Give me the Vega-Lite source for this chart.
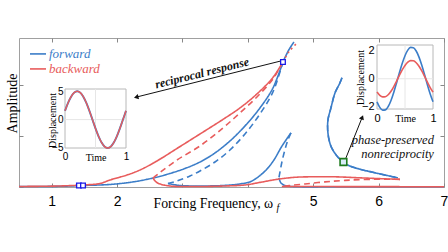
{
  "$schema": "https://vega.github.io/schema/vega-lite/v6.json",
  "width": 425,
  "height": 149,
  "autosize": {"type": "none"},
  "padding": {"left": 19, "top": 38, "right": 4, "bottom": 65},
  "background": "white",
  "config": {
    "view": {"stroke": "#a0a0a0", "strokeWidth": 1},
    "axis": {"grid": false, "domain": false, "labelFlush": false, "labelOverlap": false, "tickColor": "#888888", "labelColor": "black", "titleColor": "black"}
  },
  "datasets": {
    "curves": [
      {"s":"b1","dir":"forward","stab":"stable","i":0,"x":0.5,"y":0.01},
      {"s":"b1","dir":"forward","stab":"stable","i":1,"x":1.127,"y":0.014},
      {"s":"b1","dir":"forward","stab":"stable","i":2,"x":1.479,"y":0.03},
      {"s":"b1","dir":"forward","stab":"stable","i":3,"x":1.891,"y":0.05},
      {"s":"b1","dir":"forward","stab":"stable","i":4,"x":2.243,"y":0.10},
      {"s":"b1","dir":"forward","stab":"stable","i":5,"x":2.549,"y":0.176},
      {"s":"b1","dir":"forward","stab":"stable","i":6,"x":2.809,"y":0.265},
      {"s":"b1","dir":"forward","stab":"stable","i":7,"x":3.038,"y":0.363},
      {"s":"b1","dir":"forward","stab":"stable","i":8,"x":3.268,"y":0.49},
      {"s":"b1","dir":"forward","stab":"stable","i":9,"x":3.497,"y":0.667},
      {"s":"b1","dir":"forward","stab":"stable","i":10,"x":3.726,"y":0.902},
      {"s":"b1","dir":"forward","stab":"stable","i":11,"x":3.956,"y":1.196},
      {"s":"b1","dir":"forward","stab":"stable","i":12,"x":4.185,"y":1.549},
      {"s":"b1","dir":"forward","stab":"stable","i":13,"x":4.384,"y":1.941},
      {"s":"b1","dir":"forward","stab":"stable","i":14,"x":4.537,"y":2.451},
      {"s":"bf","dir":"forward","stab":"faint","i":0,"x":4.537,"y":2.451},
      {"s":"bf","dir":"forward","stab":"faint","i":1,"x":4.628,"y":2.69},
      {"s":"bf","dir":"forward","stab":"faint","i":2,"x":4.705,"y":2.84},
      {"s":"bd1","dir":"forward","stab":"unstable","i":0,"x":2.778,"y":0.069},
      {"s":"bd1","dir":"forward","stab":"unstable","i":1,"x":2.916,"y":0.118},
      {"s":"bd1","dir":"forward","stab":"unstable","i":2,"x":3.115,"y":0.216},
      {"s":"bd1","dir":"forward","stab":"unstable","i":3,"x":3.268,"y":0.314},
      {"s":"bd1","dir":"forward","stab":"unstable","i":4,"x":3.497,"y":0.49},
      {"s":"bd1","dir":"forward","stab":"unstable","i":5,"x":3.726,"y":0.725},
      {"s":"bd1","dir":"forward","stab":"unstable","i":6,"x":3.956,"y":1.039},
      {"s":"bd1","dir":"forward","stab":"unstable","i":7,"x":4.185,"y":1.431},
      {"s":"bd1","dir":"forward","stab":"unstable","i":8,"x":4.384,"y":1.863},
      {"s":"bd1","dir":"forward","stab":"unstable","i":9,"x":4.537,"y":2.451},
      {"s":"bl1","dir":"forward","stab":"stable","i":0,"x":2.778,"y":0.069},
      {"s":"bl1","dir":"forward","stab":"stable","i":1,"x":2.962,"y":0.03},
      {"s":"bl1","dir":"forward","stab":"stable","i":2,"x":3.268,"y":0.02},
      {"s":"bl1","dir":"forward","stab":"stable","i":3,"x":3.635,"y":0.03},
      {"s":"bl1","dir":"forward","stab":"stable","i":4,"x":3.879,"y":0.06},
      {"s":"bl1","dir":"forward","stab":"stable","i":5,"x":4.032,"y":0.10},
      {"s":"bl1","dir":"forward","stab":"stable","i":6,"x":4.139,"y":0.18},
      {"s":"bl1","dir":"forward","stab":"stable","i":7,"x":4.277,"y":0.33},
      {"s":"bl1","dir":"forward","stab":"stable","i":8,"x":4.399,"y":0.53},
      {"s":"bl1","dir":"forward","stab":"stable","i":9,"x":4.521,"y":0.80},
      {"s":"bl1","dir":"forward","stab":"stable","i":10,"x":4.659,"y":1.06},
      {"s":"bd2","dir":"forward","stab":"unstable","i":0,"x":4.659,"y":1.06},
      {"s":"bd2","dir":"forward","stab":"unstable","i":1,"x":4.613,"y":0.92},
      {"s":"bd2","dir":"forward","stab":"unstable","i":2,"x":4.567,"y":0.73},
      {"s":"bd2","dir":"forward","stab":"unstable","i":3,"x":4.521,"y":0.49},
      {"s":"bd2","dir":"forward","stab":"unstable","i":4,"x":4.491,"y":0.29},
      {"s":"bd2","dir":"forward","stab":"unstable","i":5,"x":4.475,"y":0.18},
      {"s":"bl2","dir":"forward","stab":"stable","i":0,"x":4.475,"y":0.18},
      {"s":"bl2","dir":"forward","stab":"stable","i":1,"x":4.506,"y":0.08},
      {"s":"bl2","dir":"forward","stab":"stable","i":2,"x":4.567,"y":0.03},
      {"s":"bl2","dir":"forward","stab":"stable","i":3,"x":4.674,"y":0.01},
      {"s":"bl2","dir":"forward","stab":"stable","i":4,"x":5.5,"y":0.006},
      {"s":"bl2","dir":"forward","stab":"stable","i":5,"x":7.0,"y":0.005},
      {"s":"brl","dir":"forward","stab":"faint","i":0,"x":5.439,"y":2.14},
      {"s":"brl","dir":"forward","stab":"faint","i":1,"x":5.408,"y":2.04},
      {"s":"brl","dir":"forward","stab":"faint","i":2,"x":5.332,"y":1.84},
      {"s":"brl","dir":"forward","stab":"faint","i":3,"x":5.271,"y":1.55},
      {"s":"brl","dir":"forward","stab":"faint","i":4,"x":5.225,"y":1.31},
      {"s":"brl","dir":"forward","stab":"faint","i":5,"x":5.225,"y":1.06},
      {"s":"brl","dir":"forward","stab":"faint","i":6,"x":5.271,"y":0.80},
      {"s":"brl","dir":"forward","stab":"faint","i":7,"x":5.362,"y":0.61},
      {"s":"brl","dir":"forward","stab":"faint","i":8,"x":5.454,"y":0.49},
      {"s":"brl","dir":"forward","stab":"faint","i":9,"x":5.561,"y":0.41},
      {"s":"brl","dir":"forward","stab":"faint","i":10,"x":5.714,"y":0.35},
      {"s":"brl","dir":"forward","stab":"faint","i":11,"x":5.974,"y":0.27},
      {"s":"brl","dir":"forward","stab":"faint","i":12,"x":6.295,"y":0.18},
      {"s":"br","dir":"forward","stab":"unstable","i":0,"x":5.439,"y":2.14},
      {"s":"br","dir":"forward","stab":"unstable","i":1,"x":5.408,"y":2.04},
      {"s":"br","dir":"forward","stab":"unstable","i":2,"x":5.332,"y":1.84},
      {"s":"br","dir":"forward","stab":"unstable","i":3,"x":5.271,"y":1.55},
      {"s":"br","dir":"forward","stab":"unstable","i":4,"x":5.225,"y":1.31},
      {"s":"br","dir":"forward","stab":"unstable","i":5,"x":5.225,"y":1.06},
      {"s":"br","dir":"forward","stab":"unstable","i":6,"x":5.271,"y":0.80},
      {"s":"br","dir":"forward","stab":"unstable","i":7,"x":5.362,"y":0.61},
      {"s":"br","dir":"forward","stab":"unstable","i":8,"x":5.454,"y":0.49},
      {"s":"br","dir":"forward","stab":"unstable","i":9,"x":5.561,"y":0.41},
      {"s":"br","dir":"forward","stab":"unstable","i":10,"x":5.714,"y":0.35},
      {"s":"br","dir":"forward","stab":"unstable","i":11,"x":5.974,"y":0.27},
      {"s":"br","dir":"forward","stab":"unstable","i":12,"x":6.295,"y":0.18},
      {"s":"r1","dir":"backward","stab":"stable","i":0,"x":0.5,"y":0.01},
      {"s":"r1","dir":"backward","stab":"stable","i":1,"x":1.127,"y":0.02},
      {"s":"r1","dir":"backward","stab":"stable","i":2,"x":1.479,"y":0.04},
      {"s":"r1","dir":"backward","stab":"stable","i":3,"x":1.739,"y":0.069},
      {"s":"r1","dir":"backward","stab":"stable","i":4,"x":1.891,"y":0.137},
      {"s":"r1","dir":"backward","stab":"stable","i":5,"x":2.151,"y":0.235},
      {"s":"r1","dir":"backward","stab":"stable","i":6,"x":2.35,"y":0.333},
      {"s":"r1","dir":"backward","stab":"stable","i":7,"x":2.61,"y":0.51},
      {"s":"r1","dir":"backward","stab":"stable","i":8,"x":2.916,"y":0.755},
      {"s":"r1","dir":"backward","stab":"stable","i":9,"x":3.268,"y":1.039},
      {"s":"r1","dir":"backward","stab":"stable","i":10,"x":3.619,"y":1.324},
      {"s":"r1","dir":"backward","stab":"stable","i":11,"x":3.879,"y":1.549},
      {"s":"r1","dir":"backward","stab":"stable","i":12,"x":4.139,"y":1.824},
      {"s":"r1","dir":"backward","stab":"stable","i":13,"x":4.384,"y":2.147},
      {"s":"r1","dir":"backward","stab":"stable","i":14,"x":4.537,"y":2.451},
      {"s":"rf","dir":"backward","stab":"faintdash","i":0,"x":4.537,"y":2.451},
      {"s":"rf","dir":"backward","stab":"faintdash","i":1,"x":4.628,"y":2.65},
      {"s":"rf","dir":"backward","stab":"faintdash","i":2,"x":4.735,"y":2.80},
      {"s":"rd1","dir":"backward","stab":"unstable","i":0,"x":2.549,"y":0.176},
      {"s":"rd1","dir":"backward","stab":"unstable","i":1,"x":2.656,"y":0.284},
      {"s":"rd1","dir":"backward","stab":"unstable","i":2,"x":2.916,"y":0.529},
      {"s":"rd1","dir":"backward","stab":"unstable","i":3,"x":3.268,"y":0.804},
      {"s":"rd1","dir":"backward","stab":"unstable","i":4,"x":3.619,"y":1.157},
      {"s":"rd1","dir":"backward","stab":"unstable","i":5,"x":3.879,"y":1.451},
      {"s":"rd1","dir":"backward","stab":"unstable","i":6,"x":4.139,"y":1.765},
      {"s":"rd1","dir":"backward","stab":"unstable","i":7,"x":4.384,"y":2.118},
      {"s":"rd1","dir":"backward","stab":"unstable","i":8,"x":4.537,"y":2.451},
      {"s":"rl","dir":"backward","stab":"stable","i":0,"x":2.549,"y":0.176},
      {"s":"rl","dir":"backward","stab":"stable","i":1,"x":2.595,"y":0.10},
      {"s":"rl","dir":"backward","stab":"stable","i":2,"x":2.656,"y":0.06},
      {"s":"rl","dir":"backward","stab":"stable","i":3,"x":2.809,"y":0.02},
      {"s":"rl","dir":"backward","stab":"stable","i":4,"x":3.268,"y":0.01},
      {"s":"rl","dir":"backward","stab":"stable","i":5,"x":3.65,"y":0.02},
      {"s":"rl","dir":"backward","stab":"stable","i":6,"x":3.956,"y":0.04},
      {"s":"rl","dir":"backward","stab":"stable","i":7,"x":4.185,"y":0.09},
      {"s":"rl","dir":"backward","stab":"stable","i":8,"x":4.445,"y":0.15},
      {"s":"rl","dir":"backward","stab":"stable","i":9,"x":4.72,"y":0.19},
      {"s":"rl","dir":"backward","stab":"stable","i":10,"x":4.95,"y":0.20},
      {"s":"rl","dir":"backward","stab":"stable","i":11,"x":5.33,"y":0.20},
      {"s":"rl","dir":"backward","stab":"stable","i":12,"x":5.714,"y":0.18},
      {"s":"rl","dir":"backward","stab":"stable","i":13,"x":6.096,"y":0.16},
      {"s":"rl","dir":"backward","stab":"stable","i":14,"x":6.326,"y":0.15},
      {"s":"rd2","dir":"backward","stab":"unstable","i":0,"x":6.326,"y":0.15},
      {"s":"rd2","dir":"backward","stab":"unstable","i":1,"x":5.867,"y":0.15},
      {"s":"rd2","dir":"backward","stab":"unstable","i":2,"x":5.485,"y":0.13},
      {"s":"rd2","dir":"backward","stab":"unstable","i":3,"x":5.18,"y":0.10},
      {"s":"rd2","dir":"backward","stab":"unstable","i":4,"x":4.873,"y":0.06},
      {"s":"rd2","dir":"backward","stab":"unstable","i":5,"x":4.644,"y":0.03},
      {"s":"rd2","dir":"backward","stab":"unstable","i":6,"x":4.52,"y":0.01},
      {"s":"rb","dir":"backward","stab":"stable","i":0,"x":4.52,"y":0.01},
      {"s":"rb","dir":"backward","stab":"stable","i":1,"x":5.5,"y":0.008},
      {"s":"rb","dir":"backward","stab":"stable","i":2,"x":7.0,"y":0.005}
    ],
    "sineL": [
      {"t":0,"d":1.576},{"t":0.05,"d":2.998},{"t":0.1,"d":4.126},{"t":0.15,"d":4.85},{"t":0.2,"d":5.1},
      {"t":0.25,"d":4.85},{"t":0.3,"d":4.126},{"t":0.35,"d":2.998},{"t":0.4,"d":1.576},{"t":0.45,"d":0},
      {"t":0.5,"d":-1.576},{"t":0.55,"d":-2.998},{"t":0.6,"d":-4.126},{"t":0.65,"d":-4.85},{"t":0.7,"d":-5.1},
      {"t":0.75,"d":-4.85},{"t":0.8,"d":-4.126},{"t":0.85,"d":-2.998},{"t":0.9,"d":-1.576},{"t":0.95,"d":0},{"t":1,"d":1.576}
    ],
    "sineR": [
      {"t":0,"b":-1.64,"r":-0.948},{"t":0.05,"b":-2.036,"r":-1.176},{"t":0.1,"b":-2.232,"r":-1.29},
      {"t":0.15,"b":-2.21,"r":-1.277},{"t":0.2,"b":-1.971,"r":-1.139},{"t":0.25,"b":-1.541,"r":-0.89},
      {"t":0.3,"b":-0.958,"r":-0.554},{"t":0.35,"b":-0.282,"r":-0.163},{"t":0.4,"b":0.421,"r":0.244},
      {"t":0.45,"b":1.084,"r":0.627},{"t":0.5,"b":1.64,"r":0.948},{"t":0.55,"b":2.036,"r":1.176},
      {"t":0.6,"b":2.232,"r":1.29},{"t":0.65,"b":2.21,"r":1.277},{"t":0.7,"b":1.971,"r":1.139},
      {"t":0.75,"b":1.541,"r":0.89},{"t":0.8,"b":0.958,"r":0.554},{"t":0.85,"b":0.282,"r":0.163},
      {"t":0.9,"b":-0.421,"r":-0.244},{"t":0.95,"b":-1.084,"r":-0.627},{"t":1,"b":-1.64,"r":-0.948}
    ],
    "arrows": [
      {"name":"rec","x":4.506,"y":2.47,"x2":2.304,"y2":1.765},
      {"name":"phase","x":5.5,"y":0.569,"x2":5.745,"y2":1.353}
    ],
    "markers": [
      {"k":"b","x":4.537,"y":2.451},
      {"k":"b","x":1.417,"y":0.03},
      {"k":"b","x":1.479,"y":0.03},
      {"k":"g","x":5.462,"y":0.49}
    ],
    "legend": [
      {"dir":"forward","x":0.668,"x2":0.913,"tx":0.959,"y":2.608},
      {"dir":"backward","x":0.668,"x2":0.913,"tx":0.959,"y":2.314}
    ]
  },
  "resolve": {"scale": {"x": "independent", "y": "independent"}},
  "layer": [
    {
      "layer": [
        {
          "data": {"name": "curves"},
          "transform": [{"filter": "datum.dir == 'forward'"}],
          "mark": {"type": "line", "strokeWidth": 1.6, "interpolate": "catmull-rom"},
          "encoding": {
            "x": {"field": "x", "type": "quantitative", "scale": {"domain": [0.5, 7], "nice": false, "zero": false},
              "axis": {"orient": "bottom", "values": [1,2,3,4,5,6,7], "format": "d", "labelExpr": "datum.value == 3 || datum.value == 4 ? '' : datum.label", "labelFont": "Liberation Sans", "labelFontSize": 14, "labelPadding": 11, "tickSize": -4, "title": "Forcing Frequency, ω", "titleFont": "Liberation Serif", "titleFontSize": 13.8, "titleFontWeight": "normal", "titleAlign": "left", "titleX": 134, "titleY": 20, "titleBaseline": "alphabetic"}},
            "y": {"field": "y", "type": "quantitative", "scale": {"domain": [0, 2.92], "nice": false, "zero": false},
              "axis": {"orient": "left", "values": [0,1,2], "labels": false, "tickSize": -4, "title": "Amplitude", "titleFont": "Liberation Serif", "titleFontSize": 14, "titleFontWeight": "normal", "titleX": -7, "titleY": 65, "titleAngle": -90, "titleAlign": "center", "titleBaseline": "middle"}},
            "detail": {"field": "s"},
            "order": {"field": "i", "type": "quantitative"},
            "color": {"field": "dir", "type": "nominal", "scale": {"domain": ["forward", "backward"], "range": ["#3b7dc8", "#e85c5c"]}, "legend": null},
            "strokeDash": {"field": "stab", "type": "nominal", "scale": {"domain": ["stable", "unstable", "faint", "faintdash"], "range": [[1,0],[6,4],[1,0],[2,3]]}, "legend": null},
            "opacity": {"field": "stab", "type": "ordinal", "scale": {"domain": ["stable", "unstable", "faint", "faintdash"], "range": [1, 1, 0.25, 0.45]}, "legend": null}
          }
        },
        {
          "data": {"name": "curves"},
          "transform": [{"filter": "datum.dir == 'backward'"}],
          "mark": {"type": "line", "strokeWidth": 1.6, "interpolate": "catmull-rom"},
          "encoding": {
            "x": {"field": "x", "type": "quantitative"},
            "y": {"field": "y", "type": "quantitative"},
            "detail": {"field": "s"},
            "order": {"field": "i", "type": "quantitative"},
            "color": {"field": "dir", "type": "nominal", "legend": null},
            "strokeDash": {"field": "stab", "type": "nominal", "legend": null},
            "opacity": {"field": "stab", "type": "ordinal", "legend": null}
          }
        },
        {
          "data": {"name": "arrows"},
          "mark": {"type": "rule", "color": "#111111", "strokeWidth": 1},
          "encoding": {
            "x": {"field": "x", "type": "quantitative"},
            "y": {"field": "y", "type": "quantitative"},
            "x2": {"field": "x2"},
            "y2": {"field": "y2"}
          }
        },
        {
          "data": {"name": "arrows"},
          "transform": [{"filter": "datum.name == 'rec'"}],
          "mark": {"type": "point", "shape": "triangle", "filled": true, "color": "#111111", "size": 28, "angle": 256, "opacity": 1},
          "encoding": {"x": {"field": "x2", "type": "quantitative"}, "y": {"field": "y2", "type": "quantitative"}}
        },
        {
          "data": {"name": "arrows"},
          "transform": [{"filter": "datum.name == 'phase'"}],
          "mark": {"type": "point", "shape": "triangle", "filled": true, "color": "#111111", "size": 28, "angle": 22, "opacity": 1},
          "encoding": {"x": {"field": "x2", "type": "quantitative"}, "y": {"field": "y2", "type": "quantitative"}}
        },
        {
          "data": {"name": "markers"},
          "transform": [{"filter": "datum.k == 'b'"}],
          "mark": {"type": "point", "shape": "square", "fill": "white", "stroke": "#1a1ae6", "strokeWidth": 1.3, "size": 22, "opacity": 1},
          "encoding": {"x": {"field": "x", "type": "quantitative"}, "y": {"field": "y", "type": "quantitative"}}
        },
        {
          "data": {"name": "markers"},
          "transform": [{"filter": "datum.k == 'g'"}],
          "mark": {"type": "point", "shape": "square", "fill": "#d8ecf8", "stroke": "#1e7b1e", "strokeWidth": 1.6, "size": 45, "opacity": 1},
          "encoding": {"x": {"field": "x", "type": "quantitative"}, "y": {"field": "y", "type": "quantitative"}}
        },
        {
          "data": {"values": [{"x": 3.298, "y": 2.235, "label": "reciprocal response"}]},
          "mark": {"type": "text", "font": "Liberation Serif", "fontStyle": "italic", "fontWeight": "bold", "fontSize": 12, "angle": -14, "align": "center", "baseline": "middle", "color": "#111111"},
          "encoding": {"x": {"field": "x", "type": "quantitative"}, "y": {"field": "y", "type": "quantitative"}, "text": {"field": "label"}}
        },
        {
          "data": {"values": [{"x": 6.846, "y": 0.92, "label": "phase-preserved"}, {"x": 6.846, "y": 0.647, "label": "nonreciprocity"}]},
          "mark": {"type": "text", "font": "Liberation Serif", "fontStyle": "italic", "fontSize": 12.5, "align": "right", "baseline": "middle", "color": "#111111"},
          "encoding": {"x": {"field": "x", "type": "quantitative"}, "y": {"field": "y", "type": "quantitative"}, "text": {"field": "label"}}
        },
        {
          "data": {"name": "legend"},
          "mark": {"type": "rule", "strokeWidth": 1.6},
          "encoding": {
            "x": {"field": "x", "type": "quantitative"},
            "x2": {"field": "x2"},
            "y": {"field": "y", "type": "quantitative"},
            "color": {"field": "dir", "type": "nominal", "legend": null}
          }
        },
        {
          "data": {"name": "legend"},
          "mark": {"type": "text", "font": "Liberation Serif", "fontStyle": "italic", "fontSize": 13, "align": "left", "baseline": "middle"},
          "encoding": {
            "x": {"field": "tx", "type": "quantitative"},
            "y": {"field": "y", "type": "quantitative"},
            "text": {"field": "dir"},
            "color": {"field": "dir", "type": "nominal", "legend": null}
          }
        },
        {
          "data": {"values": [{"x": 4.46, "y": -0.41, "label": "f"}]},
          "mark": {"type": "text", "font": "Liberation Serif", "fontStyle": "italic", "fontSize": 10, "align": "center", "baseline": "middle", "color": "black"},
          "encoding": {"x": {"field": "x", "type": "quantitative"}, "y": {"field": "y", "type": "quantitative"}, "text": {"field": "label"}}
        }
      ]
    },
    {
      "data": {"values": [{"x": 1, "y": 1}]},
      "mark": {"type": "point", "opacity": 0},
      "encoding": {
        "x": {"field": "x", "type": "quantitative", "scale": {"domain": [0.5, 7], "nice": false, "zero": false}, "axis": {"orient": "top", "values": [1,2,3,4,5,6,7], "labels": false, "tickSize": -4, "title": null}},
        "y": {"field": "y", "type": "quantitative", "scale": {"domain": [0, 2.92], "nice": false, "zero": false}, "axis": {"orient": "right", "values": [1,2], "labels": false, "tickSize": -4, "title": null}}
      }
    },
    {
      "layer": [
        {
          "data": {"values": [{}]},
          "mark": {"type": "rect", "fill": "white", "stroke": "#b8b8b8", "strokeWidth": 1},
          "encoding": {
            "x": {"datum": 0, "type": "quantitative", "scale": {"domain": [0, 1], "range": [46, 107], "nice": false, "zero": false},
              "axis": {"orient": "bottom", "offset": -39, "values": [0, 1], "format": "d", "ticks": false, "labelFont": "Liberation Sans", "labelFontSize": 10, "labelPadding": 3, "title": "Time", "titleFont": "Liberation Serif", "titleFontSize": 10, "titleFontWeight": "normal", "titleX": 76.5, "titleY": 9, "titleAlign": "center", "titleBaseline": "middle", "zindex": 1}},
            "x2": {"datum": 1},
            "y": {"datum": -5.1, "type": "quantitative", "scale": {"domain": [-5.1, 5.5], "range": [110, 51], "nice": false, "zero": false},
              "axis": {"orient": "left", "offset": -46, "values": [-5, 0, 5], "format": "d", "ticks": false, "labelFont": "Liberation Sans", "labelFontSize": 10, "labelPadding": 2, "title": "Displacement", "titleFont": "Liberation Serif", "titleFontSize": 10, "titleFontWeight": "normal", "titleX": -12.5, "titleY": 82, "titleAngle": -90, "titleAlign": "center", "titleBaseline": "middle", "zindex": 1}},
            "y2": {"datum": 5.5}
          }
        },
        {
          "data": {"values": [{}]},
          "mark": {"type": "rule", "stroke": "#e6e6e6", "strokeWidth": 1},
          "encoding": {"x": {"datum": 0.5, "type": "quantitative"}, "y": {"datum": -5.1, "type": "quantitative"}, "y2": {"datum": 5.5}}
        },
        {
          "data": {"values": [{}]},
          "mark": {"type": "rule", "stroke": "#e6e6e6", "strokeWidth": 1},
          "encoding": {"x": {"datum": 0, "type": "quantitative"}, "x2": {"datum": 1}, "y": {"datum": 0, "type": "quantitative"}}
        },
        {
          "data": {"name": "sineL"},
          "mark": {"type": "line", "interpolate": "monotone", "strokeWidth": 1.9, "color": "#3b7dc8"},
          "encoding": {"x": {"field": "t", "type": "quantitative"}, "y": {"field": "d", "type": "quantitative"}}
        },
        {
          "data": {"name": "sineL"},
          "mark": {"type": "line", "interpolate": "monotone", "strokeWidth": 1.4, "color": "#e85c5c"},
          "encoding": {"x": {"field": "t", "type": "quantitative"}, "y": {"field": "d", "type": "quantitative"}}
        }
      ]
    },
    {
      "layer": [
        {
          "data": {"values": [{}]},
          "mark": {"type": "rect", "fill": "white", "stroke": "#b8b8b8", "strokeWidth": 1},
          "encoding": {
            "x": {"datum": 0, "type": "quantitative", "scale": {"domain": [0, 1], "range": [358, 414], "nice": false, "zero": false},
              "axis": {"orient": "bottom", "offset": -78, "values": [0, 1], "format": "d", "ticks": false, "labelFont": "Liberation Sans", "labelFontSize": 11, "labelPadding": 3, "title": "Time", "titleFont": "Liberation Serif", "titleFontSize": 10, "titleFontWeight": "normal", "titleX": 386, "titleY": 9, "titleAlign": "center", "titleBaseline": "middle", "zindex": 1}},
            "x2": {"datum": 1},
            "y": {"datum": -2.15, "type": "quantitative", "scale": {"domain": [-2.15, 2.4], "range": [71, 7], "nice": false, "zero": false},
              "axis": {"orient": "left", "offset": -358, "values": [-2, 0, 2], "format": "d", "ticks": false, "labelFont": "Liberation Sans", "labelFontSize": 11, "labelPadding": 3, "title": "Displacement", "titleFont": "Liberation Serif", "titleFontSize": 10, "titleFontWeight": "normal", "titleX": -17, "titleY": 39, "titleAngle": -90, "titleAlign": "center", "titleBaseline": "middle", "zindex": 1}},
            "y2": {"datum": 2.4}
          }
        },
        {
          "data": {"values": [{}]},
          "mark": {"type": "rule", "stroke": "#e6e6e6", "strokeWidth": 1},
          "encoding": {"x": {"datum": 0.5, "type": "quantitative"}, "y": {"datum": -2.15, "type": "quantitative"}, "y2": {"datum": 2.4}}
        },
        {
          "data": {"values": [{}]},
          "mark": {"type": "rule", "stroke": "#e6e6e6", "strokeWidth": 1},
          "encoding": {"x": {"datum": 0, "type": "quantitative"}, "x2": {"datum": 1}, "y": {"datum": 0, "type": "quantitative"}}
        },
        {
          "data": {"name": "sineR"},
          "mark": {"type": "line", "interpolate": "monotone", "strokeWidth": 1.6, "color": "#3b7dc8"},
          "encoding": {"x": {"field": "t", "type": "quantitative"}, "y": {"field": "b", "type": "quantitative"}}
        },
        {
          "data": {"name": "sineR"},
          "mark": {"type": "line", "interpolate": "monotone", "strokeWidth": 1.6, "color": "#e85c5c"},
          "encoding": {"x": {"field": "t", "type": "quantitative"}, "y": {"field": "r", "type": "quantitative"}}
        }
      ]
    }
  ]
}
